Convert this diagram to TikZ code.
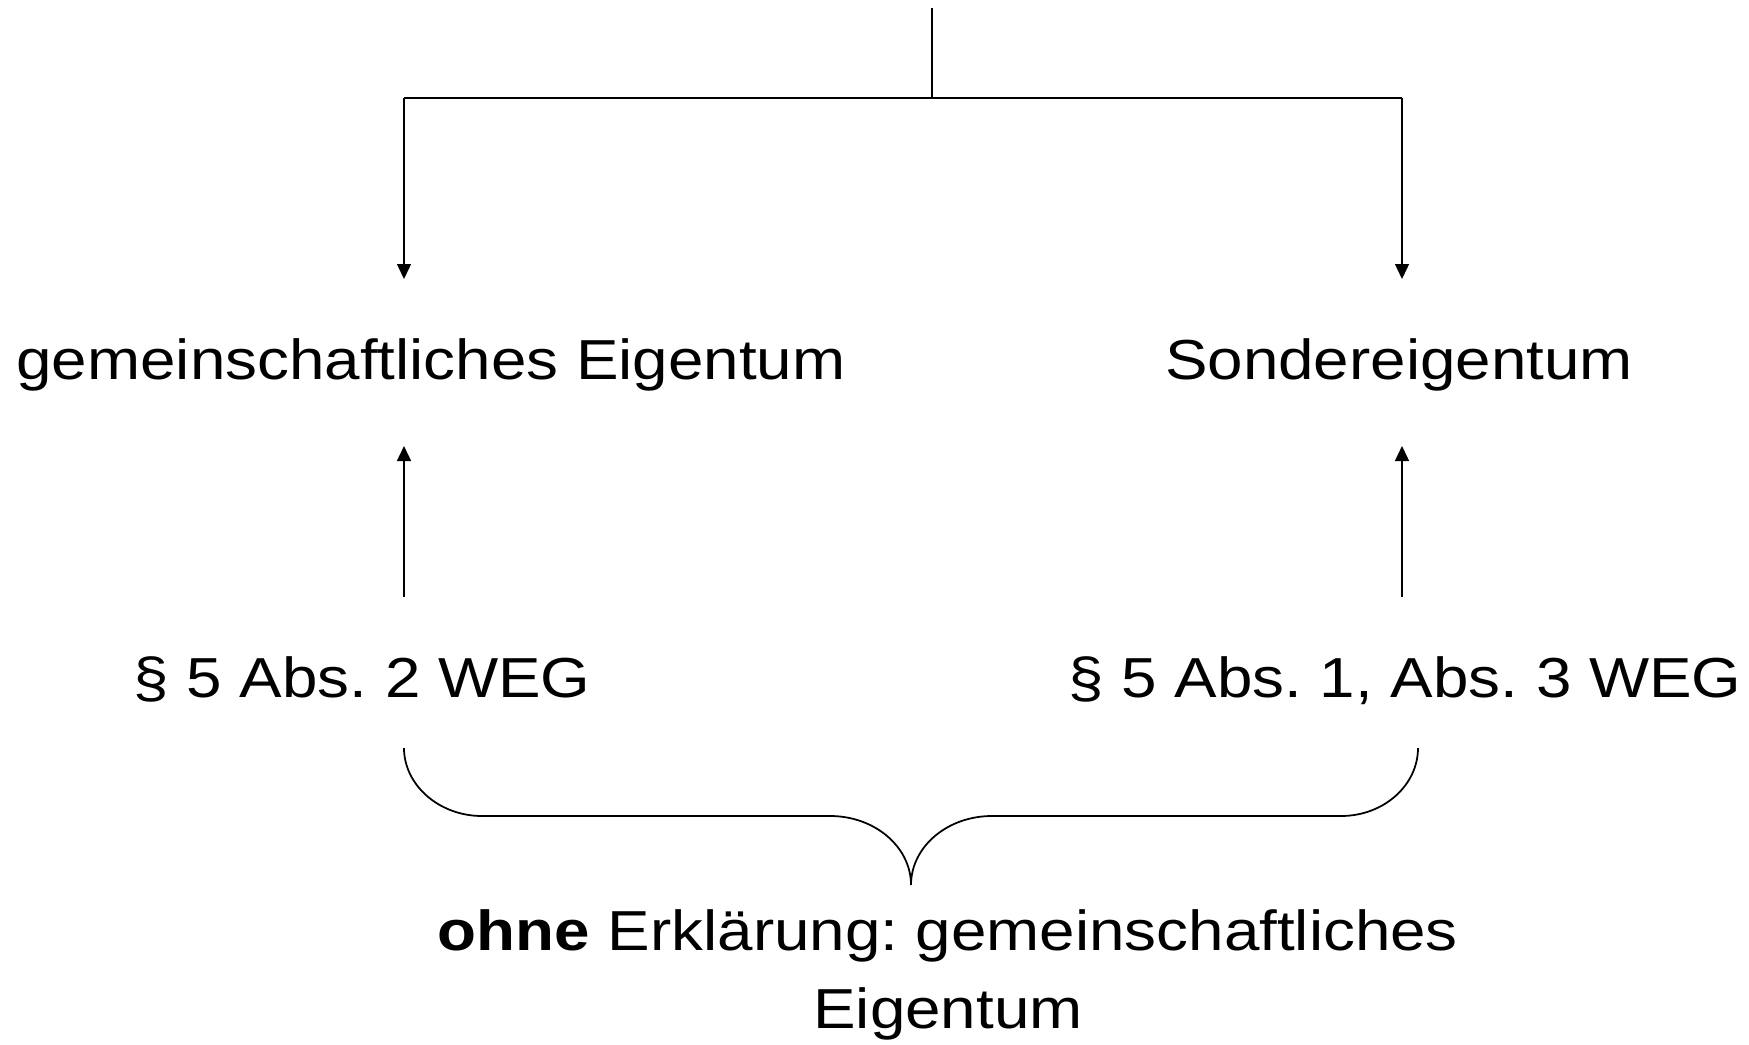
\documentclass[tikz,border=0pt]{standalone}
\usepackage{fontspec}
\setmainfont{Liberation Sans}[FakeStretch=1.13]
\usetikzlibrary{arrows.meta}
\frenchspacing

\begin{document}
\begin{tikzpicture}[x=0.02cm,y=-0.02cm,>={Triangle[length=0.3cm,width=0.28cm]},
    label/.style={font=\fontsize{32.1}{44.2}\selectfont,anchor=base,inner sep=0pt,align=center},
    link/.style={line width=0.8pt}]
  \useasboundingbox (0,0) rectangle (1749,1045);
  % the two kinds of ownership
  \node[label] (common) at (431,379) {gemeinschaftliches Eigentum};
  \node[label] (special) at (1399,379) {Sondereigentum};
  \node[label] (parcommon) at (362,697) {§ 5 Abs. 2 WEG};
  \node[label] (parspecial) at (1405,697) {§ 5 Abs. 1, Abs. 3 WEG};
  \node[label] (default) at (948,1028) {\textbf{ohne} Erklärung: gemeinschaftliches\\Eigentum};
  % fork from above
  \coordinate (top) at (932,8);
  \coordinate (fork) at (932,98);
  \coordinate (forkl) at (404,98);
  \coordinate (forkr) at (1402,98);
  \coordinate (inl) at (404,279);
  \coordinate (inr) at (1402,279);
  \draw[line width=1pt] (top) -- (fork);
  \draw[line width=1pt] (forkl) -- (forkr);
  \draw[link,->] (forkl) -- (inl);
  \draw[link,->] (forkr) -- (inr);
  % arrows up from the paragraphs
  \coordinate (froml) at (404,597);
  \coordinate (fromr) at (1402,597);
  \draw[link,->] (froml) -- (404,446);
  \draw[link,->] (fromr) -- (1402,446);
  % brace over both paragraphs
  \draw[line width=1pt] (404,748) .. controls (404,785) and (439,816) .. (482,816)
    -- (830,816) .. controls (875,816) and (911,847) .. (911,885)
    .. controls (911,847) and (947,816) .. (992,816)
    -- (1341,816) .. controls (1384,816) and (1418,785) .. (1418,748);
\end{tikzpicture}
\end{document}
